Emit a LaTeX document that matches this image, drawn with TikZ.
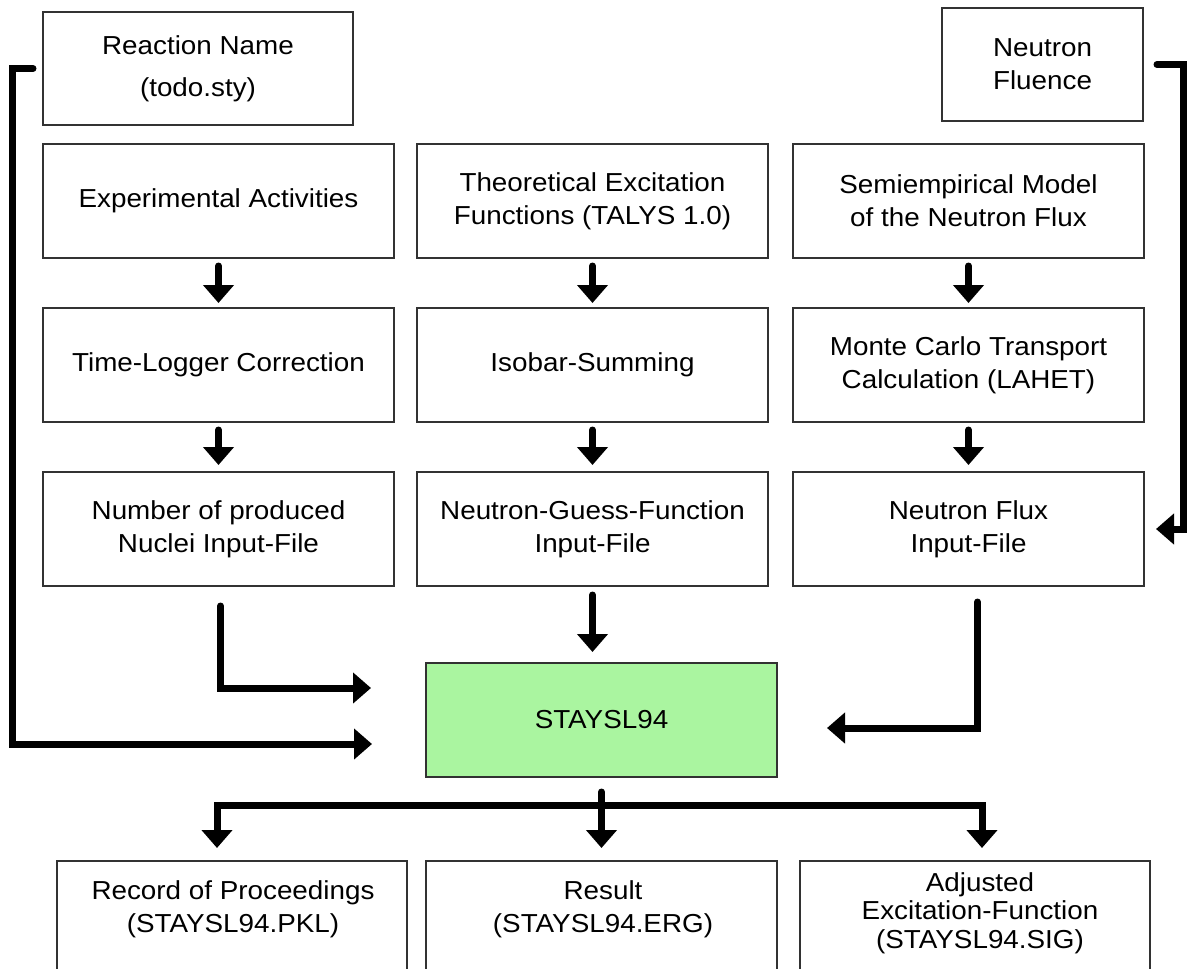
\documentclass[tikz,border=0pt]{standalone}
\usepackage{fontspec}
\setmainfont{Liberation Sans}[FakeStretch=1.07]
\usetikzlibrary{arrows.meta}
\definecolor{staygreen}{RGB}{170,245,160}
\definecolor{boxline}{RGB}{50,50,50}
\begin{document}
\begin{tikzpicture}[x=1pt,y=-1pt,
  box/.style={draw=boxline, line width=1.4pt, rectangle, minimum width=351pt,
    minimum height=114pt, inner sep=0pt, outer sep=0pt, align=center,
    font=\fontsize{26}{33}\selectfont},
  lbl/.style={inner sep=0pt, align=center, font=\fontsize{26}{33}\selectfont},
  flow/.style={line width=7pt, line cap=round, line join=miter,
    -{Triangle[width=30pt,length=18pt]}},
]
\useasboundingbox (0,0) rectangle (1187,969);
\fill[white] (0,0) rectangle (1187,969);
\clip (0,0) rectangle (1187,969);

% top inputs
\node[box, minimum width=310pt, minimum height=113pt] (rn) at (198,68.5)
  {Reaction Name\\[9pt](todo.sty)};
\node[box, minimum width=201pt, minimum height=113pt] (flu) at (1042.5,64.5)
  {Neutron\\Fluence};

% first row
\node[box] (ea)  at (218.5,201) {\raisebox{4pt}{Experimental Activities}};
\node[box] (tef) at (592.5,201) {Theoretical Excitation\\Functions (TALYS 1.0)};
\node[box] (sem) at (968.5,201) {Semiempirical Model\\of the Neutron Flux};

% second row
\node[box] (tlc) at (218.5,365) {Time-Logger Correction};
\node[box] (iso) at (592.5,365) {Isobar-Summing};
\node[box] (mc)  at (968.5,365) {Monte Carlo Transport\\Calculation (LAHET)};

% third row
\node[box] (npf) at (218.5,529) {Number of produced\\Nuclei Input-File};
\node[box] (ngf) at (592.5,529) {Neutron-Guess-Function\\Input-File};
\node[box] (nf)  at (968.5,529) {Neutron Flux\\Input-File};

% central program
\node[box, fill=staygreen] (st) at (601.5,720) {STAYSL94};

% output files
\node[box, minimum width=350pt, minimum height=139pt] (rec) at (232,930.5) {};
\node[box, minimum width=351pt, minimum height=139pt] (res) at (601.5,930.5) {};
\node[box, minimum width=350pt, minimum height=139pt] (adj) at (975,930.5) {};
\node[lbl] (rect) at (233,909) {Record of Proceedings\\(STAYSL94.PKL)};
\node[lbl] (rest) at (603,909) {Result\\(STAYSL94.ERG)};
\node[lbl, font=\fontsize{26}{28.5}\selectfont] (adjt) at (980,913)
  {Adjusted\\Excitation-Function\\(STAYSL94.SIG)};

% column flows
\foreach \a/\b in {ea/tlc, tef/iso, sem/mc}
  \draw[flow, shorten <=8pt, shorten >=5pt] (\a.south) -- (\b.north);
\foreach \a/\b in {tlc/npf, iso/ngf, mc/nf}
  \draw[flow, shorten <=8pt, shorten >=7pt] (\a.south) -- (\b.north);

% inputs of STAYSL94
\draw[flow, shorten <=20pt, shorten >=55pt] ([xshift=2pt]npf.south) |- ([yshift=32pt]st.west);
\draw[flow, shorten <=9pt, shorten >=11pt] (ngf.south) -- (st.north -| ngf.south);
\draw[flow, shorten <=16pt, shorten >=50pt] ([xshift=9pt]nf.south) |- ([yshift=-8pt]st.east);
\draw[flow, shorten >=54pt] ([xshift=-10pt]rn.west) -- ++(-21,0) |- ([yshift=-24pt]st.west);
\draw[flow, shorten >=12pt] ([xshift=14pt]flu.east) -- ++(26,0) |- (nf.east);

% outputs of STAYSL94
\coordinate (busL) at (217,805);
\coordinate (busR) at (982,805);
\draw[flow, shorten <=15pt, shorten >=13pt] (st.south) -- (res.north);
\draw[flow, line cap=butt, shorten >=13pt] (busR) -| (rec.north -| busL);
\draw[flow, line cap=butt, shorten >=13pt] (busL) -| (adj.north -| busR);
\end{tikzpicture}
\end{document}
